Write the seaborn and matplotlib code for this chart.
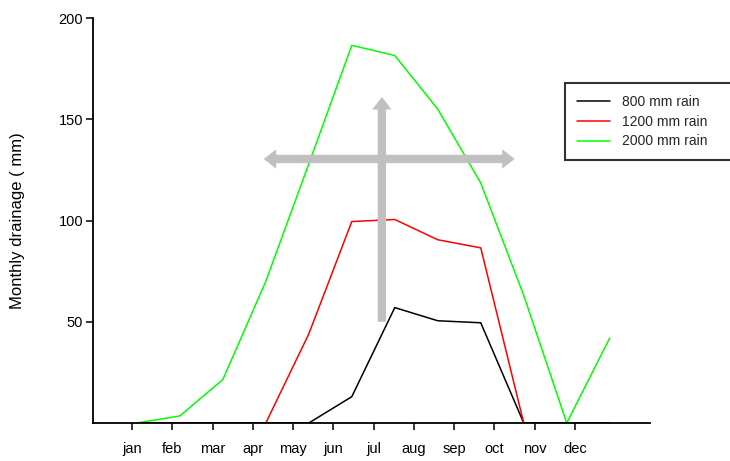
import numpy as np
import pandas as pd
import seaborn as sns
import matplotlib
matplotlib.use("Agg")
import matplotlib.pyplot as plt

# monthly drainage (mm)
months = ["jan", "feb", "mar", "apr", "may", "jun", "jul", "aug", "sep", "oct", "nov", "dec"]
rain_800 = [0, 0, 0, 0, 0, 13, 57, 50.5, 49.5, 0, 0, 0]
rain_1200 = [0, 0, 0, 0, 44, 99.5, 100.5, 90.5, 86.5, 0, 0, 0]
rain_2000 = [0, 3.5, 21.5, 70, 128, 186.5, 181.5, 155, 118.5, 63, 0, 42]
series_labels = ["800 mm rain", "1200 mm rain", "2000 mm rain"]
series_colors = ["#000000", "#ff0000", "#00ff00"]

# the month labels sit slightly off the data positions in the original
tick_pos = np.linspace(0.89, 11.19, 12)

df = pd.concat([
    pd.DataFrame({"month": np.arange(1, 13), "drainage": vals, "series": lab})
    for vals, lab in zip([rain_800, rain_1200, rain_2000], series_labels)
])

sns.set_theme(style="white")
plt.rcParams["font.family"] = ["Liberation Sans", "DejaVu Sans"]

fig = plt.figure(figsize=(7.3, 4.61), dpi=100)
ax = fig.add_axes([0.1274, 0.0824, 0.7626, 0.8785])

sns.lineplot(data=df, x="month", y="drainage", hue="series", hue_order=series_labels,
             palette=series_colors, linewidth=1.1, ax=ax, legend=False)

ax.set_xlim(-0.02, 12.93)
ax.set_ylim(0, 200)
ax.set_xticks(tick_pos)
ax.set_xticklabels(months)
ax.set_yticks([50, 100, 150, 200])
ax.tick_params(axis="both", direction="out", length=5, width=1.1, color="black",
               labelcolor="black", bottom=True, left=True)
ax.tick_params(axis="x", pad=9, labelsize=10.5)
ax.tick_params(axis="y", pad=2, labelsize=10.5)
ax.set_xlabel("")
ax.set_ylabel("Monthly drainage ( mm)", fontsize=12, color="black")
ax.yaxis.set_label_coords(-0.122, 0.5)
for side in ["top", "right"]:
    ax.spines[side].set_visible(False)
for side in ["left", "bottom"]:
    ax.spines[side].set_color("black")
    ax.spines[side].set_linewidth(1.3)
    ax.spines[side].set_zorder(10)

# gray cross of arrows
arrow_kw = dict(arrowstyle="simple,head_width=1.4,head_length=0.9,tail_width=0.6",
                color="#c0c0c0", mutation_scale=10, shrinkA=0, shrinkB=0, lw=0)
cx, cy = 6.70, 130.4
ax.annotate("", xy=(3.95, cy), xytext=(cx, cy), arrowprops=arrow_kw)
ax.annotate("", xy=(9.79, cy), xytext=(cx, cy), arrowprops=arrow_kw)
ax.annotate("", xy=(cx, 161), xytext=(cx, 50), arrowprops=arrow_kw)

handles = [plt.Line2D([], [], color=c, lw=1.1) for c in series_colors]
leg = fig.legend(handles, series_labels, loc="upper left",
                 bbox_to_anchor=(0.774, 0.820, 0.27, 0.0), mode="expand",
                 fontsize=10, frameon=True, fancybox=False, borderpad=0.85,
                 labelspacing=0.42, handlelength=2.4, handletextpad=0.85,
                 borderaxespad=0)
leg.get_frame().set_edgecolor("black")
leg.get_frame().set_linewidth(1.5)

fig.savefig("out.png", dpi=100)
